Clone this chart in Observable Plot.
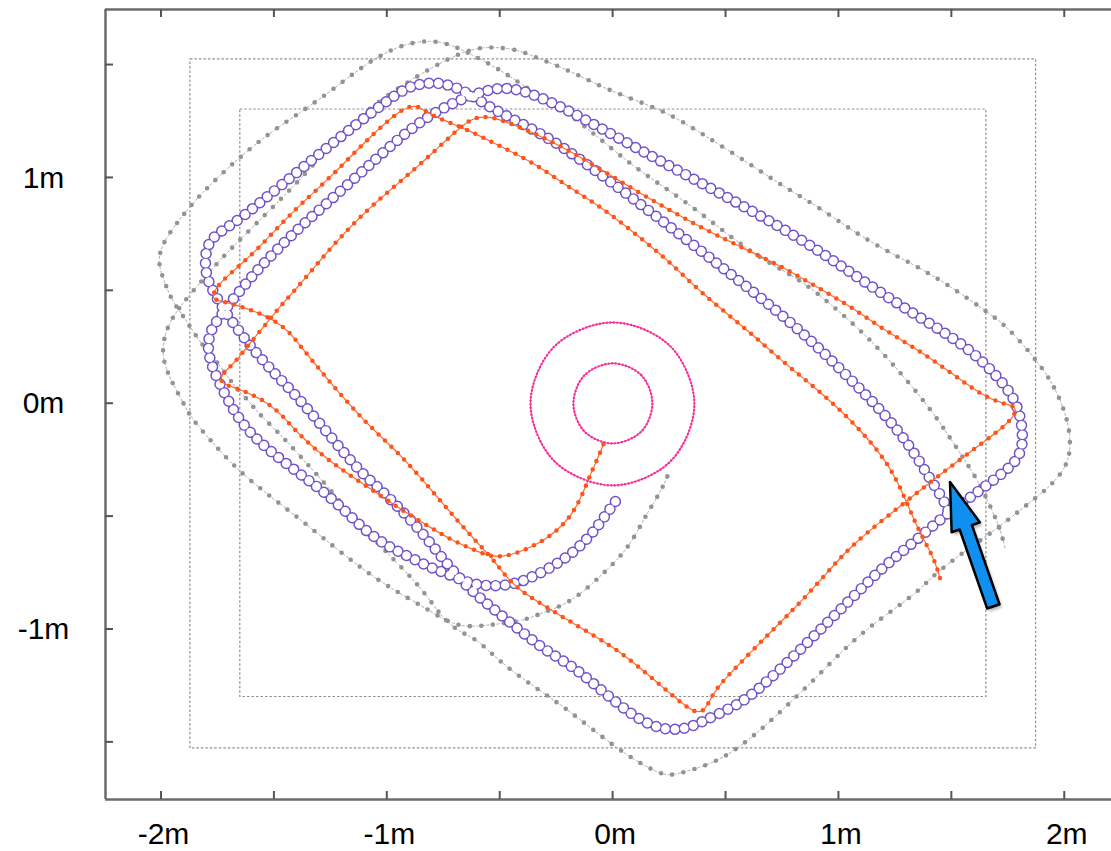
<!DOCTYPE html>
<html><head><meta charset="utf-8">
<script src="https://cdn.jsdelivr.net/npm/d3@7"></script>
<script src="https://cdn.jsdelivr.net/npm/@observablehq/plot@0.6"></script>
<style>html,body{margin:0;padding:0;background:#fff;overflow:hidden;} #chart svg{display:block;}</style>
</head><body><div id="chart"></div>
<script>
// ---- axes ----
const xDomain = [-2.248, 2.207];
const yDomain = [-1.753, 1.746];
const xTicks = [-2, -1.5, -1, -0.5, 0, 0.5, 1, 1.5, 2];
const yTicks = [-1.5, -1, -0.5, 0, 0.5, 1, 1.5];
const xLabelValues = [-2, -1, 0, 1, 2];
const xLabels = ["-2m", "-1m", "0m", "1m", "2m"];
const yLabelValues = [-1, 0, 1];
const yLabels = ["-1m", "0m", "1m"];

// ---- room outlines (m) ----
const rooms = [
  {x1: -1.872, x2: 1.873, y1: -1.527, y2: 1.525},
  {x1: -1.651, x2: 1.653, y1: -1.299, y2: 1.303}
];

// ---- trajectories (m) ----
const purplePath = [
[0.010,-0.433],[-0.056,-0.526],[-0.114,-0.601],[-0.202,-0.680],[-0.291,-0.734],[-0.380,-0.778],[-0.442,-0.800],[-0.530,-0.809],[-0.619,-0.800],[-0.676,-0.778],[-0.752,-0.747],[-0.822,-0.720],[-0.898,-0.680],[-0.973,-0.645],[-1.044,-0.601],[-1.119,-0.543],
[-1.252,-0.411],[-1.385,-0.313],[-1.518,-0.211],[-1.606,-0.132],[-1.664,-0.056],[-1.708,0.019],[-1.752,0.108],[-1.783,0.183],[-1.797,0.254],[-1.783,0.329],[-1.739,0.387],[-1.695,0.449],[-1.637,0.519],[-1.562,0.608],[-1.473,0.697],[-1.385,0.785],[-1.163,0.980],[-0.942,1.184],[-0.796,1.290],[-0.645,1.361],[-0.574,1.383],[-0.499,1.401],[-0.424,1.392],[-0.353,1.370],[-0.202,1.303],[0.090,1.139],[0.386,0.980],[0.683,0.816],[0.905,0.683],[1.095,0.550],[1.348,0.387],[1.569,0.254],[1.702,0.121],[1.773,0.032],[1.804,-0.056],[1.813,-0.127],[1.813,-0.189],[1.790,-0.247],[1.746,-0.291],[1.671,-0.349],[1.569,-0.424],[1.463,-0.499],[1.348,-0.601],[1.197,-0.720],[1.051,-0.867],[0.905,-1.013],[0.754,-1.164],[0.608,-1.297],[0.533,-1.342],[0.386,-1.413],[0.311,-1.444],[0.209,-1.444],[0.090,-1.386],[-0.056,-1.266],[-0.176,-1.164],[-0.309,-1.088],[-0.455,-0.969],[-0.601,-0.853],[-0.676,-0.778],[-0.752,-0.689],[-0.822,-0.601],[-0.898,-0.512],[-0.973,-0.437],[-1.044,-0.366],[-1.119,-0.304],[-1.252,-0.145],[-1.398,0.032],[-1.505,0.139],[-1.606,0.254],[-1.695,0.373],[-1.752,0.462],[-1.792,0.537],[-1.806,0.595],[-1.806,0.670],[-1.783,0.728],[-1.726,0.772],[-1.651,0.816],[-1.296,1.113],[-0.942,1.392],[-0.867,1.414],[-0.796,1.423],[-0.734,1.414],[-0.676,1.392],[-0.619,1.361],[-0.530,1.303],[-0.353,1.215],[-0.202,1.126],[0.165,0.852],[0.608,0.506],[0.754,0.387],[0.905,0.254],[1.051,0.108],[1.197,-0.039],[1.317,-0.189],[1.405,-0.336],[1.463,-0.424],[1.485,-0.477]
];

const orangePath = [
[-0.043,-0.180],[-0.074,-0.255],[-0.101,-0.313],[-0.123,-0.371],[-0.153,-0.437],[-0.189,-0.499],[-0.242,-0.556],[-0.300,-0.601],[-0.366,-0.636],[-0.432,-0.663],[-0.499,-0.680],[-0.557,-0.672],[-0.632,-0.641],[-0.720,-0.601],[-0.796,-0.556],[-0.942,-0.468],[-1.089,-0.366],[-1.239,-0.269],[-1.385,-0.145],[-1.460,-0.056],[-1.531,0.006],[-1.628,0.054],[-1.695,0.077],[-1.739,0.094],[-1.735,0.125],[-1.708,0.152],[-1.664,0.196],[-1.606,0.271],[-1.531,0.360],[-1.460,0.449],[-1.385,0.529],[-1.239,0.706],[-1.089,0.860],[-0.942,0.984],[-0.796,1.113],[-0.689,1.215],[-0.619,1.268],[-0.557,1.272],[-0.499,1.259],[-0.353,1.201],[-0.202,1.126],[-0.056,1.038],[0.165,0.905],[0.386,0.781],[0.608,0.674],[0.754,0.604],[0.905,0.515],[1.051,0.431],[1.197,0.329],[1.348,0.240],[1.494,0.139],[1.640,0.032],[1.737,-0.003],[1.790,-0.012],[1.773,-0.069],[1.640,-0.171],[1.494,-0.278],[1.348,-0.393],[1.197,-0.512],[1.051,-0.632],[0.949,-0.747],[0.829,-0.880],[0.754,-0.955],[0.608,-1.102],[0.462,-1.252],[0.431,-1.309],[0.400,-1.367],[0.356,-1.367],[0.267,-1.297],[0.165,-1.208],[0.019,-1.088],[-0.132,-1.000],[-0.278,-0.911],[-0.424,-0.823],[-0.499,-0.734],[-0.543,-0.676],[-0.645,-0.570],[-0.796,-0.393],[-0.942,-0.224],[-1.089,-0.092],[-1.239,0.077],[-1.310,0.165],[-1.385,0.254],[-1.429,0.316],[-1.505,0.373],[-1.575,0.404],[-1.651,0.431],[-1.726,0.453],[-1.774,0.462],[-1.770,0.493],[-1.739,0.537],[-1.664,0.604],[-1.575,0.683],[-1.473,0.794],[-1.385,0.882],[-1.239,1.015],[-1.089,1.171],[-0.942,1.303],[-0.885,1.321],[-0.853,1.312],[-0.796,1.272],[-0.645,1.215],[-0.499,1.139],[-0.353,1.069],[-0.202,0.962],[-0.056,0.874],[0.090,0.759],[0.240,0.639],[0.386,0.493],[0.608,0.316],[0.754,0.183],[0.905,0.063],[1.051,-0.069],[1.197,-0.233],[1.272,-0.366],[1.348,-0.556],[1.419,-0.676],[1.449,-0.778]
];

const greyPath = [
[0.240,-0.322],[0.209,-0.393],[0.152,-0.481],[0.090,-0.601],[0.032,-0.676],[-0.025,-0.734],[-0.087,-0.792],[-0.158,-0.853],[-0.233,-0.898],[-0.309,-0.924],[-0.380,-0.955],[-0.455,-0.969],[-0.530,-0.978],[-0.601,-0.986],[-0.676,-0.986],[-0.752,-0.955],[-0.822,-0.911],[-0.898,-0.867],[-0.973,-0.823],[-1.044,-0.778],[-1.119,-0.725],[-1.239,-0.632],[-1.385,-0.512],[-1.531,-0.402],[-1.681,-0.278],[-1.797,-0.145],[-1.872,-0.060],[-1.916,0.028],[-1.961,0.108],[-1.991,0.187],[-1.996,0.254],[-1.978,0.329],[-1.948,0.387],[-1.903,0.449],[-1.828,0.537],[-1.739,0.639],[-1.651,0.728],[-1.518,0.860],[-1.385,0.993],[-1.208,1.193],[-1.075,1.312],[-0.942,1.405],[-0.796,1.494],[-0.645,1.569],[-0.543,1.582],[-0.424,1.569],[-0.353,1.538],[-0.202,1.480],[-0.056,1.405],[0.090,1.347],[0.240,1.290],[0.386,1.201],[0.608,1.060],[0.754,0.962],[0.905,0.874],[1.051,0.772],[1.197,0.683],[1.348,0.608],[1.494,0.519],[1.640,0.418],[1.746,0.342],[1.861,0.209],[1.937,0.108],[1.994,-0.012],[2.025,-0.127],[2.025,-0.260],[1.937,-0.366],[1.861,-0.424],[1.715,-0.543],[1.569,-0.645],[1.419,-0.757],[1.348,-0.836],[1.197,-0.942],[1.051,-1.057],[0.905,-1.208],[0.754,-1.353],[0.608,-1.486],[0.462,-1.588],[0.311,-1.633],[0.240,-1.651],[0.165,-1.619],[0.019,-1.531],[-0.202,-1.353],[-0.353,-1.252],[-0.499,-1.146],[-0.601,-1.044],[-0.676,-1.013],[-0.752,-0.955],[-0.822,-0.853],[-0.898,-0.765],[-0.973,-0.689],[-1.044,-0.614],[-1.119,-0.543],[-1.252,-0.380],[-1.385,-0.233],[-1.473,-0.136],[-1.575,-0.039],[-1.619,0.019],[-1.664,0.063],[-1.708,0.121],[-1.752,0.183],[-1.814,0.254],[-1.858,0.316],[-1.903,0.387],[-1.948,0.449],[-1.974,0.506],[-1.996,0.564],[-2.014,0.625],[-2.005,0.683],[-1.970,0.750],[-1.903,0.838],[-1.828,0.927],[-1.681,1.069],[-1.531,1.193],[-1.385,1.290],[-1.239,1.392],[-1.089,1.511],[-0.942,1.591],[-0.809,1.612],[-0.720,1.591],[-0.645,1.556],[-0.499,1.480],[-0.353,1.378],[-0.202,1.290],[-0.056,1.171],[0.090,1.051],[0.240,0.949],[0.386,0.847],[0.533,0.728],[0.683,0.625],[0.829,0.550],[0.976,0.431],[1.126,0.298],[1.272,0.139],[1.419,-0.039],[1.525,-0.202],[1.614,-0.336],[1.671,-0.455],[1.715,-0.556],[1.737,-0.645]
];

const pinkInner = [[0.000,0.179],[0.125,0.126],[0.174,0.001],[0.125,-0.123],[-0.003,-0.176],[-0.127,-0.123],[-0.176,0.001],[-0.127,0.126]];
const pinkOuter = [[0.000,0.360],[0.254,0.254],[0.360,-0.003],[0.254,-0.255],[0.000,-0.362],[-0.260,-0.255],[-0.366,0.001],[-0.260,0.254]];

// ---- annotation arrow (m): tail -> tip ----
const arrowTail = [1.686, -0.900];
const arrowTip = [1.494, -0.349];

const pts = (arr) => arr.map(([x, y]) => ({x, y}));
const FONT = "Liberation Sans, Arial, Helvetica, sans-serif";

function tickMarks(index, scales) {
  const {x, y} = scales;
  const g = d3.create("svg:g").attr("stroke", "#555").attr("stroke-width", 2);
  const yb = y(yDomain[0]), yt = y(yDomain[1]), xl = x(xDomain[0]);
  for (const v of xTicks) {
    g.append("line").attr("x1", x(v)).attr("x2", x(v)).attr("y1", yb).attr("y2", yb - 8);
    g.append("line").attr("x1", x(v)).attr("x2", x(v)).attr("y1", yt).attr("y2", yt + 8);
  }
  for (const v of yTicks) {
    g.append("line").attr("x1", xl).attr("x2", xl + 8).attr("y1", y(v)).attr("y2", y(v));
  }
  return g.node();
}

function arrowMark(index, scales) {
  const {x, y} = scales;
  const x1 = x(arrowTail[0]), y1 = y(arrowTail[1]), x2 = x(arrowTip[0]), y2 = y(arrowTip[1]);
  const L = Math.hypot(x2 - x1, y2 - y1), ux = (x2 - x1) / L, uy = (y2 - y1) / L, nx = -uy, ny = ux;
  const hl = 48, hh = 15, sh = 6.5;
  const bx = x2 - ux * hl, by = y2 - uy * hl;
  const poly = [
    [x1 + nx * sh, y1 + ny * sh], [bx + nx * sh, by + ny * sh], [bx + nx * hh, by + ny * hh],
    [x2, y2],
    [bx - nx * hh, by - ny * hh], [bx - nx * sh, by - ny * sh], [x1 - nx * sh, y1 - ny * sh]
  ].map(p => p.join(",")).join(" ");
  const g = d3.create("svg:g");
  const defs = g.append("defs");
  defs.append("filter").attr("id", "arrowBlur").append("feGaussianBlur").attr("stdDeviation", 1.8);
  g.append("polygon").attr("points", poly).attr("transform", "translate(2.5,3)")
    .attr("fill", "#000").attr("opacity", 0.3).attr("filter", "url(#arrowBlur)");
  g.append("polygon").attr("points", poly).attr("fill", "#0f90f0").attr("stroke", "#000")
    .attr("stroke-width", 2.5).attr("stroke-linejoin", "round");
  return g.node();
}

const chart = Plot.plot({
  width: 1111,
  height: 851,
  marginLeft: 105,
  marginRight: 0,
  marginTop: 9,
  marginBottom: 52,
  x: {domain: xDomain, axis: null},
  y: {domain: yDomain, axis: null},
  marks: [
    Plot.rect(rooms, {x1: "x1", x2: "x2", y1: "y1", y2: "y2", fill: "none", stroke: "#8f8f8f", strokeWidth: 1.2, strokeDasharray: "2.5 2"}),
    // grey trajectory
    Plot.line(pts(greyPath), {x: "x", y: "y", curve: "basis", stroke: "#b0b0b0", strokeWidth: 1, strokeDasharray: "2.5 2.5"}),
    Plot.line(pts(greyPath), {x: "x", y: "y", curve: "basis", stroke: "#939393", strokeWidth: 4.6, strokeDasharray: "0 11.5", strokeLinecap: "round"}),
    // purple rings
    Plot.line(pts(purplePath), {x: "x", y: "y", curve: "basis", stroke: "#6d52c8", strokeWidth: 11.5, strokeDasharray: "0 9.5", strokeLinecap: "round"}),
    Plot.line(pts(purplePath), {x: "x", y: "y", curve: "basis", stroke: "#ffffff", strokeWidth: 8.6, strokeDasharray: "0 9.5", strokeLinecap: "round"}),
    // orange trajectory
    Plot.line(pts(orangePath), {x: "x", y: "y", curve: "basis", stroke: "#ff6a30", strokeWidth: 1.2}),
    Plot.line(pts(orangePath), {x: "x", y: "y", curve: "basis", stroke: "#ff5419", strokeWidth: 4.5, strokeDasharray: "0 9", strokeLinecap: "round"}),
    // pink circles
    Plot.line(pts(pinkInner), {x: "x", y: "y", curve: "catmull-rom-closed", stroke: "#ff46a8", strokeWidth: 1.2}),
    Plot.line(pts(pinkOuter), {x: "x", y: "y", curve: "catmull-rom-closed", stroke: "#ff46a8", strokeWidth: 1.2}),
    Plot.line(pts(pinkInner), {x: "x", y: "y", curve: "catmull-rom-closed", stroke: "#f52e95", strokeWidth: 2.4, strokeDasharray: "0 3.5", strokeLinecap: "round"}),
    Plot.line(pts(pinkOuter), {x: "x", y: "y", curve: "catmull-rom-closed", stroke: "#f52e95", strokeWidth: 2.4, strokeDasharray: "0 3.5", strokeLinecap: "round"}),
    // frame
    Plot.ruleX([xDomain[0]], {stroke: "#6b6b6b", strokeWidth: 2.5}),
    Plot.ruleY([yDomain[0], yDomain[1]], {stroke: "#6b6b6b", strokeWidth: 2.5}),
    tickMarks,
    // labels
    Plot.text(xLabelValues, {x: d => d, y: yDomain[0], text: (d, i) => xLabels[i], dy: 35, dx: 2, fontSize: 30, fontFamily: FONT, fill: "#000"}),
    Plot.text(yLabelValues, {x: xDomain[0], y: d => d, text: (d, i) => yLabels[i], dx: -62, fontSize: 30, fontFamily: FONT, fill: "#000", textAnchor: "middle"}),
    arrowMark
  ]
});
document.getElementById("chart").appendChild(chart);
</script>
</body></html>
